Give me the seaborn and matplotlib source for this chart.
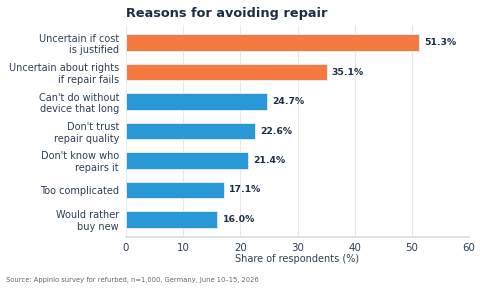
import matplotlib
matplotlib.use('Agg')
import matplotlib.pyplot as plt
import seaborn as sns
import pandas as pd

# data
reasons = ['Uncertain if cost\nis justified', 'Uncertain about rights\nif repair fails',
           "Can't do without\ndevice that long", "Don't trust\nrepair quality",
           "Don't know who\nrepairs it", 'Too complicated', 'Would rather\nbuy new']
shares = [51.3, 35.1, 24.7, 22.6, 21.4, 17.1, 16.0]
groups = ['top', 'top', 'rest', 'rest', 'rest', 'rest', 'rest']

df = pd.DataFrame({'reason': reasons, 'share': shares, 'group': groups})

sns.set_theme(style='white')
plt.rcParams['font.family'] = ['DejaVu Sans']

text_col = '#2e3f55'
fig = plt.figure(figsize=(4.8, 2.89), dpi=100)
# axes spans x 126..469 px, y 25..237 px
ax = fig.add_axes([126 / 480, 1 - 237 / 289, 343 / 480, 212 / 289])

sns.barplot(data=df, x='share', y='reason', hue='group',
            palette={'top': '#f47a40', 'rest': '#2899d6'}, saturation=1,
            width=0.557, edgecolor='#dcecf7', linewidth=0.7,
            legend=False, ax=ax, zorder=3)

for i, v in enumerate(shares):
    ax.text(v + 0.9, i, f'{v:.1f}%', va='center', ha='left',
            fontsize=6.7, fontweight='bold', color='#1c2e45')

ax.set_xlim(0, 60)
ax.set_ylim(6.6, -0.6)
ax.set_xticks([0, 10, 20, 30, 40, 50, 60])
ax.grid(axis='x', color='#e8e8e8', linewidth=0.8, zorder=0)
ax.set_axisbelow(True)
for s in ['top', 'right', 'left']:
    ax.spines[s].set_visible(False)
ax.spines['bottom'].set_color('#dddddd')
ax.tick_params(axis='x', length=3, color='#dddddd', labelsize=7.4, labelcolor=text_col, pad=1.2)
ax.tick_params(axis='y', length=0, labelsize=7, labelcolor=text_col, pad=5)
ax.set_ylabel('')
ax.set_xlabel('Share of respondents (%)', fontsize=7, color=text_col, labelpad=0.5)

fig.text(126 / 480, 1 - 17 / 289, 'Reasons for avoiding repair', fontsize=9.3, fontweight='bold',
         color='#1c2e45', ha='left', va='baseline')
fig.text(6 / 480, 1 - 280 / 289, 'Source: Appinio survey for refurbed, n=1,000, Germany, June 10\u201315, 2026',
         fontsize=4.85, color='#666666', ha='left', va='center')

fig.savefig('out.png', dpi=100)
